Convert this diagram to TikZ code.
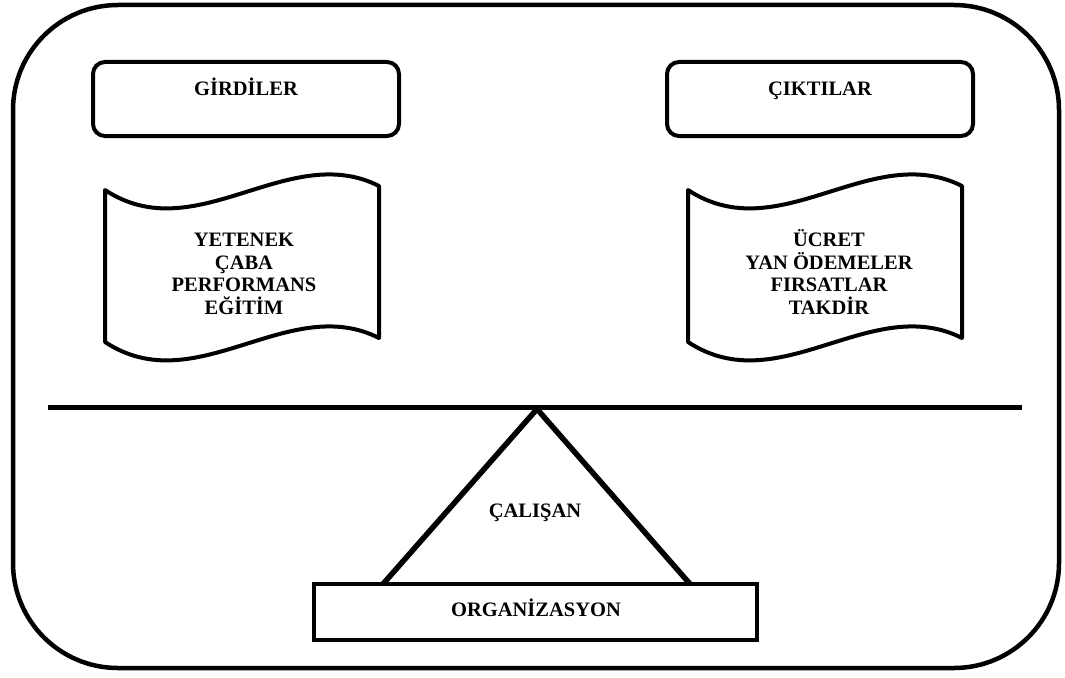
\documentclass[tikz,border=0pt]{standalone}
\usepackage{fontspec}
\setmainfont{Liberation Serif}
\begin{document}
\begin{tikzpicture}[x=1pt,y=-1pt,
  frame/.style={line width=4.5pt, rounded corners=105pt},
  headbox/.style={line width=4pt, rounded corners=12pt},
  wave/.style={line width=4pt, line join=round},
  label/.style={font=\bfseries\fontsize{20.5}{22.7}\selectfont, inner sep=0pt, align=center},
]
\useasboundingbox (0,0) rectangle (1065,677);

% outer frame
\draw[frame] (13,5) rectangle (1059,668);

% heading boxes
\draw[headbox] (93,62) rectangle (399,136);
\draw[headbox] (667,62) rectangle (973,136);
\node[label, anchor=base] (girdi) at (246,95) {GİRDİLER};
\node[label, anchor=base] (cikti) at (820,95) {ÇIKTILAR};

% wavy banners
\foreach \dx in {0,583}{
  \begin{scope}[shift={(\dx,0)}]
    \draw[wave] (105,190) .. controls (196,250) and (288,140) .. (379,186)
      -- (379,338) .. controls (288,292) and (196,402) .. (105,342) -- cycle;
  \end{scope}
}
\node[label] (inputs) at (244,274) {YETENEK\\ÇABA\\PERFORMANS\\EĞİTİM};
\node[label] (outputs) at (829,272) {ÜCRET\\YAN ÖDEMELER\\FIRSATLAR\\TAKDİR};

% balance beam and fulcrum
\coordinate (beamL) at (48,407);
\coordinate (beamR) at (1022,407);
\draw[line width=5pt] (beamL) -- (beamR);
\coordinate (apex) at (537,409);
\coordinate (footL) at (383,584);
\coordinate (footR) at (690,584);
\draw[line width=5.5pt, line join=miter] (footL) -- (apex) -- (footR);
\node[label, anchor=base] (calisan) at (535,517) {ÇALIŞAN};

% base block
\draw[line width=4.5pt] (314,584) rectangle (757,640);
\node[label, anchor=base] (org) at (536,616) {ORGANİZASYON};
\end{tikzpicture}
\end{document}
